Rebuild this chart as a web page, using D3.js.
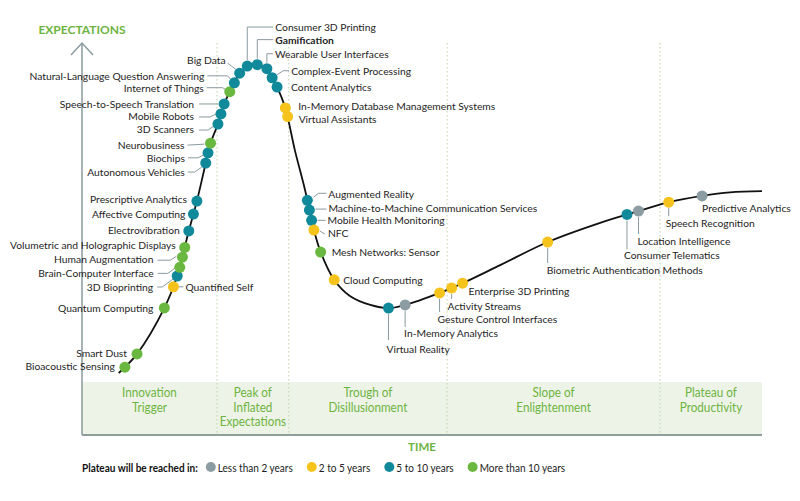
<html>
<head>
<script src="https://cdnjs.cloudflare.com/ajax/libs/d3/7.8.5/d3.min.js"></script>
<style>
  body { margin: 0; background: #fff; }
</style>
</head>
<body>
<script>

    // hype curve: time (0-100) vs expectations (0-100)
    let curveTime = [5.4, 8.1, 12.1, 14.0, 15.7, 16.9, 18.2, 18.9, 20.0, 20.9, 22.4, 23.2, 24.3, 25.0, 25.7, 27.2, 27.9, 28.7, 29.9, 31.3, 32.8, 34.1, 35.1, 37.1, 39.4, 42.4, 45.1, 47.5, 52.6, 56.0, 61.5, 68.5, 76.2, 81.8, 86.3, 91.2, 95.3, 100];
    let curveExp  = [15.6, 20.5, 32.2, 40.4, 51.9, 59.6, 69.3, 74.4, 79.3, 84.4, 89.8, 92.3, 94.1, 94.6, 94.5, 93.4, 91.3, 88.7, 83.4, 72.6, 62.4, 52.2, 46.5, 39.4, 35.3, 33.0, 32.2, 33.0, 36.1, 38.6, 43.2, 49.1, 54.0, 57.0, 59.3, 60.9, 61.8, 62.1];

    // technologies on the curve
    let techNames = ["Bioacoustic Sensing","Smart Dust","Quantum Computing","Quantified Self","3D Bioprinting",
        "Brain-Computer Interface","Human Augmentation","Volumetric and Holographic Displays","Electrovibration",
        "Affective Computing","Prescriptive Analytics","Autonomous Vehicles","Biochips","Neurobusiness","3D Scanners",
        "Mobile Robots","Speech-to-Speech Translation","Internet of Things","Natural-Language Question Answering",
        "Big Data","Consumer 3D Printing","Gamification","Wearable User Interfaces","Complex-Event Processing",
        "Content Analytics","In-Memory Database Management Systems","Virtual Assistants","Augmented Reality",
        "Machine-to-Machine Communication Services","Mobile Health Monitoring","NFC","Mesh Networks: Sensor",
        "Cloud Computing","Virtual Reality","In-Memory Analytics","Gesture Control Interfaces","Activity Streams",
        "Enterprise 3D Printing","Biometric Authentication Methods","Consumer Telematics","Location Intelligence",
        "Speech Recognition","Predictive Analytics"];
    let techTime = [6.3, 8.1, 12.1, 13.4, 14.0, 14.3, 14.7, 15.0, 15.7, 16.3, 16.9, 18.2, 18.5, 19.0, 20.0, 20.4, 20.9, 21.8, 22.4,
        23.2, 24.3, 25.7, 27.2, 27.9, 28.7, 29.9, 30.1, 33.1, 33.4, 33.8, 34.1, 35.1, 37.1, 45.1, 47.5, 52.6, 54.4, 56.0, 68.5, 80.1, 81.8, 86.3, 91.2];
    let techExp  = [17.1, 20.5, 32.2, 37.6, 40.4, 42.7, 45.3, 47.8, 51.9, 56.3, 59.6, 69.3, 71.9, 74.4, 79.3, 81.8, 84.4, 87.5, 89.8,
        92.3, 94.1, 94.1, 93.4, 91.0, 88.7, 83.4, 81.1, 59.8, 57.3, 54.7, 52.2, 46.5, 39.4, 32.2, 33.0, 36.1, 37.3, 38.6, 49.1, 56.3, 57.0, 59.3, 60.6];
    // 0 = <2 yrs, 1 = 2-5 yrs, 2 = 5-10 yrs, 3 = >10 yrs
    let techGroup = [3, 3, 3, 1, 2, 3, 3, 3, 2, 2, 2, 2, 2, 3, 2, 2, 2, 3, 2,
        2, 2, 2, 2, 2, 2, 1, 1, 2, 2, 2, 1, 3, 1, 2, 0, 1, 1, 1, 1, 2, 0, 1, 0];

    let groupLabels = ["Less than 2 years", "2 to 5 years", "5 to 10 years", "More than 10 years"];
    let phaseNames = [["Innovation","Trigger"], ["Peak of","Inflated","Expectations"], ["Trough of","Disillusionment"],
        ["Slope of","Enlightenment"], ["Plateau of","Productivity"]];
    let phaseEnds = [0, 19.85, 30.4, 53.7, 85, 100];

    let groupColors = ["#8b9da2", "#f6c31c", "#10899a", "#6bb840"];
    let green = "#6db33f";
    let lineGrey = "#8a9a9e";
    let labelFont = "Lato, 'Open Sans', sans-serif";

    // label placement relative to the dot: dx, dy, anchor end/start, leader polyline
    let E = "end", S = "start";
    let layout = {
        "Bioacoustic Sensing": [-10, -1, E],
        "Smart Dust": [-10, -1, E],
        "Quantum Computing": [-11, 0, E],
        "Quantified Self": [12, 0, S, [[5,0],[10,0]]],
        "3D Bioprinting": [-24, 11, E, [[-20,11],[-15,11],[-4,3]]],
        "Brain-Computer Interface": [-26, 6, E, [[-22,6],[-12,6],[-5,1]]],
        "Human Augmentation": [-29, 2, E, [[-25,3],[-12,3],[-6,-1]]],
        "Volumetric and Holographic Displays": [-9, -2, E],
        "Electrovibration": [-9, -1, E],
        "Affective Computing": [-8, 0, E],
        "Prescriptive Analytics": [-10, -2, E],
        "Autonomous Vehicles": [-21, 9, E, [[-18,9],[-11,9],[-4,4]]],
        "Biochips": [-23, 5, E, [[-20,5],[-10,5],[-4,2]]],
        "Neurobusiness": [-26, 2, E, [[-23,2],[-6,1]]],
        "3D Scanners": [-24, 5, E, [[-19,6],[-10,6],[-4,2]]],
        "Mobile Robots": [-27, 2, E, [[-22,3],[-11,3],[-5,0]]],
        "Speech-to-Speech Translation": [-30, 0, E, [[-25,0],[-6,0]]],
        "Internet of Things": [-26, -4, E, [[-23,-4],[-7,-4],[-4,-2]]],
        "Natural-Language Question Answering": [-30, -7, E, [[-27,-7],[-7,-7],[-3,-3]]],
        "Big Data": [-14, -13, E, [[-12,-10],[-4,-4]]],
        "Consumer 3D Printing": [28, -39, S, [[26,-39],[0,-39],[0,-6]]],
        "Gamification": [18, -25, S, [[16,-25],[0,-25],[0,-6]]],
        "Wearable User Interfaces": [8, -15, S, [[6,-15],[0,-15],[0,-6]]],
        "Complex-Event Processing": [19, -7, S, [[17,-7],[11,-7],[5,-3]]],
        "Content Analytics": [14, 0, S],
        "In-Memory Database Management Systems": [13, -2, S],
        "Virtual Assistants": [11, 2, S],
        "Augmented Reality": [21, -6, S, [[6,-3],[11,-7],[19,-7]]],
        "Machine-to-Machine Communication Services": [19, -2, S, [[6,-1],[17,-1]]],
        "Mobile Health Monitoring": [16, 0, S, [[6,0],[14,0]]],
        "NFC": [14, 3, S, [[6,1],[11,4]]],
        "Mesh Networks: Sensor": [11, 0, S],
        "Cloud Computing": [9, 0, S],
        "Virtual Reality": [-2, 41, S, [[0,6],[0,32]]],
        "In-Memory Analytics": [-1, 28, S, [[0,6],[0,22]]],
        "Gesture Control Interfaces": [-2, 26, S, [[0,6],[0,19]]],
        "Activity Streams": [-4, 18, S, [[0,6],[0,11]]],
        "Enterprise 3D Printing": [6, 8, S],
        "Biometric Authentication Methods": [-1, 28, S, [[0,6],[0,21]]],
        "Consumer Telematics": [-3, 41, S, [[0,6],[0,35]]],
        "Location Intelligence": [-1, 30, S, [[0,6],[0,23]]],
        "Speech Recognition": [-3, 21, S, [[0,6],[0,14]]],
        "Predictive Analytics": [0, 12, S]
    };

    let svg = d3.select("body").append("svg")
        .attr("width", 800)
        .attr("height", 501);

    let x = d3.scaleLinear().domain([0, 100]).range([82, 762]);
    let y = d3.scaleLinear().domain([0, 100]).range([434, 43]);

    // squeeze a text horizontally (no condensed face is installed)
    function condense(sel, k) {
        let w = sel.node().getComputedTextLength();
        sel.attr("textLength", w * k).attr("lengthAdjust", "spacingAndGlyphs");
        return w * k;
    }

    //phase band
    svg.append("rect")
        .attr("x", x(0)).attr("y", 382)
        .attr("width", x(100) - x(0)).attr("height", 434 - 382)
        .attr("fill", "#edf4e7");

    //dotted phase separators
    phaseEnds.slice(1, -1).forEach(p =>
        svg.append("line")
            .attr("x1", x(p)).attr("x2", x(p))
            .attr("y1", y(100)).attr("y2", 434)
            .attr("stroke", "#c9d9bb")
            .attr("stroke-width", 1.2)
            .attr("stroke-dasharray", "1.5,2.5")
    );

    //phase labels
    phaseNames.forEach((lines, i) => {
        let cx = x((phaseEnds[i] + phaseEnds[i + 1]) / 2);
        lines.forEach((t, j) => {
            let tx = svg.append("text")
                .attr("x", cx).attr("y", 392 + j * 14.5)
                .attr("text-anchor", "middle")
                .attr("dominant-baseline", "central")
                .style("font-family", labelFont)
                .style("font-size", "13px")
                .attr("fill", green)
                .text(t);
            condense(tx, 0.9);
        });
    });

    //axes
    svg.append("line")
        .attr("x1", x(0)).attr("x2", x(100))
        .attr("y1", 435).attr("y2", 435)
        .attr("stroke", "#8f9d9d").attr("stroke-width", 2.2);
    svg.append("line")
        .attr("x1", x(0)).attr("x2", x(0))
        .attr("y1", 435).attr("y2", y(100))
        .attr("stroke", lineGrey).attr("stroke-width", 1.5);
    svg.append("path")
        .attr("d", d3.line()([[x(0) - 11, y(100) + 12], [x(0), y(100)], [x(0) + 11, y(100) + 12]]))
        .attr("fill", "none")
        .attr("stroke", lineGrey).attr("stroke-width", 1.5);

    svg.append("text")
        .attr("x", 82).attr("y", 29)
        .attr("text-anchor", "middle")
        .attr("dominant-baseline", "central")
        .style("font-family", labelFont)
        .style("font-weight", "bold")
        .style("font-size", "12px")
        .attr("fill", green)
        .text("EXPECTATIONS");
    svg.append("text")
        .attr("x", x(50)).attr("y", 446)
        .attr("text-anchor", "middle")
        .attr("dominant-baseline", "central")
        .style("font-family", labelFont)
        .style("font-weight", "bold")
        .style("font-size", "11.5px")
        .attr("fill", green)
        .text("TIME");

    //the curve
    let curvePts = curveTime.map((t, i) => [x(t), y(curveExp[i])]);
    let curvePath = svg.append("path")
        .attr("d", d3.line().curve(d3.curveCatmullRom.alpha(0.5))(curvePts))
        .attr("fill", "none")
        .attr("stroke", "#111")
        .attr("stroke-width", 1.8);

    //sample the curve so dots sit on it
    let node = curvePath.node();
    let total = node.getTotalLength();
    let samples = d3.range(0, total, 0.5).map(l => node.getPointAtLength(l));
    function snap(px, py) {
        let best = samples[0], bd = Infinity;
        samples.forEach(s => {
            let d = (s.x - px) * (s.x - px) + (s.y - py) * (s.y - py);
            if (d < bd) { bd = d; best = s; }
        });
        return best;
    }

    let dots = techNames.map((n, i) => {
        let p = snap(x(techTime[i]), y(techExp[i]));
        return {name: n, group: techGroup[i], x: p.x, y: p.y};
    });

    //leader lines
    dots.forEach(d => {
        let l = layout[d.name];
        if (l && l[3]) {
            svg.append("path")
                .attr("d", d3.line()(l[3].map(p => [d.x + p[0], d.y + p[1]])))
                .attr("fill", "none")
                .attr("stroke", lineGrey)
                .attr("stroke-width", 1);
        }
    });

    //dots
    svg.selectAll(".dot").data(dots).enter().append("circle")
        .attr("class", "dot")
        .attr("cx", d => d.x)
        .attr("cy", d => d.y)
        .attr("r", 5.5)
        .attr("fill", d => groupColors[d.group]);

    //labels
    dots.forEach(d => {
        let l = layout[d.name];
        svg.append("text")
            .attr("x", d.x + l[0])
            .attr("y", d.y + l[1])
            .attr("text-anchor", l[2])
            .attr("dominant-baseline", "central")
            .style("font-family", labelFont)
            .style("font-size", "10.3px")
            .style("font-weight", d.name == "Gamification" ? "bold" : "normal")
            .attr("fill", "#1e1e1e")
            .text(d.name);
    });

    //legend
    let lg = svg.append("g");
    let legText = lg.append("text")
        .attr("x", 82).attr("y", 467)
        .attr("dominant-baseline", "central")
        .style("font-family", labelFont)
        .style("font-weight", "bold")
        .style("font-size", "11px")
        .attr("fill", "#111")
        .text("Plateau will be reached in:");
    let lx = 82 + condense(legText, 0.91) + 8;
    groupLabels.forEach((g, i) => {
        lg.append("circle")
            .attr("cx", lx + 5).attr("cy", 467)
            .attr("r", 5)
            .attr("fill", groupColors[i]);
        let t = lg.append("text")
            .attr("x", lx + 12).attr("y", 467)
            .attr("dominant-baseline", "central")
            .style("font-family", labelFont)
            .style("font-size", "11px")
            .attr("fill", "#222")
            .text(g);
        lx += 12 + condense(t, 0.91) + 14;
    });

</script>
</body>
</html>
